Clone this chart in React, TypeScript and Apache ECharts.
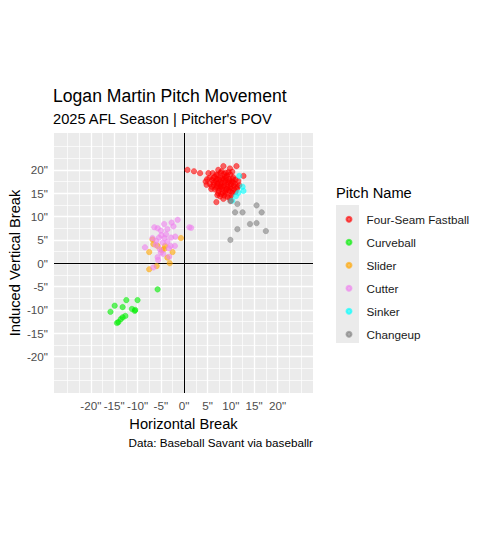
import React, { useEffect, useRef } from "react";
import * as echarts from "echarts";

const pitchNames = ["Four-Seam Fastball", "Curveball", "Slider", "Cutter", "Sinker", "Changeup"];
const pitchColors = ["#FF0000", "#00EE00", "#FFA500", "#EE82EE", "#00FFFF", "#808080"];

const fourSeam: [number, number][] = [
  [0.7, 20.0], [2.1, 19.7], [3.4, 19.3], [5.2, 19.3], [6.1, 19.3], [8.4, 20.8], [9.8, 20.3], [11.2, 20.8],
  [12.7, 18.7], [4.6, 17.5], [4.8, 16.8], [5.8, 15.9], [6.9, 13.1], [7.7, 14.3], [10.0, 13.4], [11.4, 16.4],
  [11.0, 15.3], [6.5, 18.5], [7.2, 18.9], [7.8, 19.4], [8.5, 19.1], [9.2, 18.8], [9.9, 19.0], [10.5, 18.4],
  [11.0, 17.9], [6.0, 17.8], [6.8, 17.6], [7.5, 17.9], [8.2, 18.2], [8.9, 17.7], [9.6, 18.0], [10.2, 17.5],
  [10.9, 17.0], [5.5, 17.0], [6.3, 16.8], [7.0, 16.5], [7.8, 16.9], [8.5, 16.6], [9.2, 16.9], [9.9, 16.3],
  [10.6, 16.6], [11.6, 17.6], [6.6, 15.8], [7.4, 15.5], [8.1, 15.9], [8.8, 15.3], [9.5, 15.7], [10.3, 15.1],
  [7.9, 14.8], [8.6, 14.5], [9.3, 14.2], [10.1, 14.6], [8.0, 17.2], [8.7, 18.6], [9.4, 17.3], [10.0, 16.9],
  [7.3, 17.2], [6.2, 18.2], [9.1, 16.0], [8.3, 15.1], [10.7, 15.8], [7.6, 16.1], [8.9, 19.4], [6.9, 19.0],
  [10.3, 19.6], [5.4, 18.3], [4.9, 18.0], [11.8, 16.7], [9.8, 14.0], [7.1, 14.6], [8.4, 13.8],
  [7.0, 18.0], [7.7, 18.3], [8.4, 17.9], [9.0, 18.3], [9.7, 17.6], [10.4, 18.0], [6.4, 17.3], [7.1, 17.0],
  [7.9, 16.4], [8.6, 17.3], [9.3, 16.4], [10.1, 16.0], [6.9, 16.2], [8.2, 16.3], [9.0, 15.7], [9.8, 15.4],
  [7.3, 15.0], [8.9, 14.9], [10.5, 17.3], [11.3, 16.0], [5.9, 16.4], [7.3, 20.0], [9.5, 19.5], [8.0, 19.7]
];
const curveball: [number, number][] = [
  [-5.7, -5.6], [-12.4, -7.9], [-10.0, -7.9], [-14.9, -9.1], [-13.2, -9.4], [-15.8, -10.4], [-11.2, -9.8],
  [-10.5, -10.0], [-10.6, -10.2], [-12.6, -11.3], [-13.2, -11.6], [-13.6, -12.0], [-14.1, -12.6], [-14.4, -12.8]
];
const slider: [number, number][] = [
  [-7.5, 2.4], [-6.6, 4.1], [-5.7, 3.7], [-4.1, 3.7], [-4.3, 3.0], [-2.5, 2.4], [-0.7, 5.4], [-6.8, 5.1],
  [-7.5, -1.3], [-5.9, -0.6], [-3.1, 0.0], [-4.8, 2.8], [-3.6, 1.2]
];
const cutter: [number, number][] = [
  [-4.3, 8.4], [-2.7, 8.7], [-1.4, 9.3], [-3.6, 7.3], [-6.4, 7.7], [-5.7, 7.5], [-5.0, 7.0], [-2.3, 7.9],
  [1.1, 7.7], [1.5, 7.6], [-6.8, 5.4], [-5.4, 5.5], [-4.2, 5.4], [-2.8, 5.5], [-1.9, 5.7], [-3.6, 4.6],
  [-4.6, 4.4], [-6.1, 3.9], [-8.4, 3.4], [-5.2, 3.0], [-2.9, 3.7], [-2.0, 3.7], [-5.7, 1.3], [-4.5, 2.0],
  [-5.0, 2.3], [-3.2, 1.4], [-6.6, -0.9], [-5.6, 0.7], [-3.9, 6.2], [-4.9, 6.0], [-3.3, 3.2], [-6.0, 4.8]
];
const sinker: [number, number][] = [
  [11.8, 18.7], [12.5, 16.4], [12.7, 15.5], [11.6, 15.1], [11.1, 14.4], [10.3, 13.4]
];
const changeup: [number, number][] = [
  [9.9, 13.3], [11.4, 12.7], [10.9, 10.9], [12.5, 10.9], [15.5, 12.4], [16.6, 10.9], [14.1, 8.4],
  [15.5, 8.6], [11.4, 7.3], [17.5, 6.9], [9.9, 5.0]
];

const seriesData = [fourSeam, curveball, slider, cutter, sinker, changeup];

const tickValues = [-20, -15, -10, -5, 0, 5, 10, 15, 20];
const majorGrid = [-20, -15, -10, -5, 0, 5, 10, 15, 20];
const minorGrid = [-25, -22.5, -17.5, -12.5, -7.5, -2.5, 2.5, 7.5, 12.5, 17.5, 22.5, 25];

const xRange = [-27.9, 27.6];
const yRange = [-27.8, 27.9];

const FONT = "'Liberation Sans', Arial, sans-serif";

export default function App() {
  const ref = useRef<HTMLDivElement>(null);

  useEffect(() => {
    const chart = echarts.init(ref.current!, null, { renderer: "svg" });

    const gridLineData: any[] = [];
    minorGrid.forEach((v) => {
      gridLineData.push({ xAxis: v, lineStyle: { color: "#FFFFFF", width: 0.7, type: "solid" } });
      gridLineData.push({ yAxis: v, lineStyle: { color: "#FFFFFF", width: 0.7, type: "solid" } });
    });
    majorGrid.forEach((v) => {
      gridLineData.push({ xAxis: v, lineStyle: { color: "#FFFFFF", width: 1.3, type: "solid" } });
      gridLineData.push({ yAxis: v, lineStyle: { color: "#FFFFFF", width: 1.3, type: "solid" } });
    });

    const option: any = {
      animation: false,
      backgroundColor: "#FFFFFF",
      textStyle: { fontFamily: FONT },
      title: [
        {
          text: "Logan Martin Pitch Movement",
          left: 53,
          top: 87,
          padding: 0,
          textStyle: { fontFamily: FONT, fontSize: 17.6, fontWeight: "normal", color: "#000000" },
        },
        {
          text: "2025 AFL Season | Pitcher's POV",
          left: 53,
          top: 111,
          padding: 0,
          textStyle: { fontFamily: FONT, fontSize: 14.67, fontWeight: "normal", color: "#000000" },
        },
        {
          text: "Pitch Name",
          left: 336,
          top: 185,
          padding: 0,
          textStyle: { fontFamily: FONT, fontSize: 14.67, fontWeight: "normal", color: "#000000" },
        },
        {
          text: "Data: Baseball Savant via baseballr",
          right: 177,
          top: 436,
          padding: 0,
          textStyle: { fontFamily: FONT, fontSize: 11.7, fontWeight: "normal", color: "#000000" },
        },
      ],
      graphic: [
        {
          type: "rect",
          left: 336,
          top: 205,
          shape: { width: 23, height: 138 },
          style: { fill: "#EBEBEB" },
          z: -1,
          silent: true,
        },
      ],
      legend: {
        orient: "vertical",
        left: 345.5,
        top: 212.3,
        padding: 0,
        itemWidth: 5,
        itemHeight: 5,
        itemGap: 9,
        icon: "circle",
        data: pitchNames,
        textStyle: {
          fontFamily: FONT,
          fontSize: 11.7,
          color: "#1A1A1A",
          lineHeight: 14,
          padding: [0, 0, 0, 10],
        },
        selectedMode: false,
      },
      grid: {
        left: 54,
        top: 133,
        width: 259,
        height: 260,
        containLabel: false,
        outerBoundsMode: "none",
        backgroundColor: "#EBEBEB",
        show: true,
        borderWidth: 0,
      },
      xAxis: {
        type: "value",
        min: xRange[0],
        max: xRange[1],
        name: "Horizontal Break",
        nameLocation: "middle",
        nameGap: 23,
        nameMoveOverlap: false,
        nameTextStyle: { fontFamily: FONT, fontSize: 14.67, color: "#000000" },
        axisLine: { show: false },
        splitLine: { show: false },
        axisTick: { show: true, customValues: tickValues, length: 3.7, lineStyle: { color: "#333333", width: 1 } },
        axisLabel: {
          customValues: tickValues,
          formatter: (v: number) => `${v}"`,
          fontFamily: FONT,
          fontSize: 11.7,
          color: "#4D4D4D",
          margin: 6,
        },
      },
      yAxis: {
        type: "value",
        min: yRange[0],
        max: yRange[1],
        name: "Induced Vertical Break",
        nameLocation: "middle",
        nameGap: 32,
        nameMoveOverlap: false,
        nameTextStyle: { fontFamily: FONT, fontSize: 14.67, color: "#000000" },
        axisLine: { show: false },
        splitLine: { show: false },
        axisTick: { show: true, customValues: tickValues, length: 3.7, lineStyle: { color: "#333333", width: 1 } },
        axisLabel: {
          customValues: tickValues,
          formatter: (v: number) => `${v}"`,
          fontFamily: FONT,
          fontSize: 11.7,
          color: "#4D4D4D",
          margin: 6,
        },
      },
      series: [
        {
          type: "scatter",
          name: "__grid",
          data: [],
          z: 1,
          silent: true,
          markLine: {
            silent: true,
            symbol: ["none", "none"],
            label: { show: false },
            animation: false,
            data: gridLineData,
          },
        },
        {
          type: "scatter",
          name: "__zero",
          data: [],
          z: 2,
          silent: true,
          markLine: {
            silent: true,
            symbol: ["none", "none"],
            label: { show: false },
            animation: false,
            lineStyle: { color: "#000000", width: 1, type: "solid" },
            data: [{ xAxis: 0 }, { yAxis: 0 }],
          },
        },
        ...pitchNames.map((name, i) => ({
          type: "scatter",
          name,
          data: seriesData[i],
          z: 5,
          symbolSize: 5.5,
          itemStyle: { color: pitchColors[i], opacity: 0.6, borderColor: pitchColors[i], borderWidth: 0.6 },
        })),
      ],
    };

    chart.setOption(option);
    return () => chart.dispose();
  }, []);

  return <div ref={ref} style={{ position: "fixed", left: 0, top: 0, width: 490, height: 536 }} />;
}
